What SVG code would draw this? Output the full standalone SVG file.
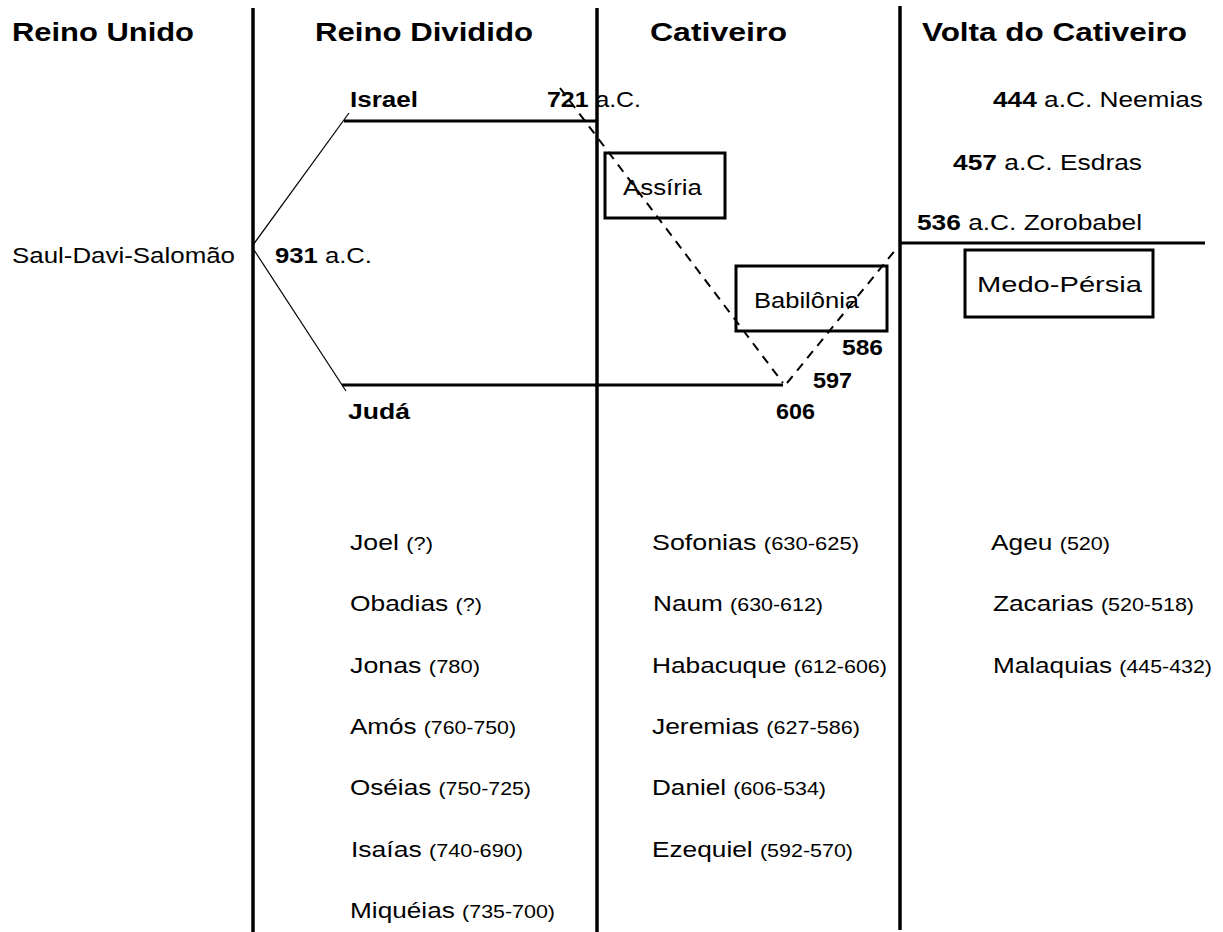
<svg xmlns="http://www.w3.org/2000/svg" width="1223" height="932" viewBox="0 0 1223 932">
<style>
text{font-family:"Liberation Sans",Arial,sans-serif;fill:#000}
.h{font-size:25px;font-weight:bold}
.t{font-size:22px}
.b{font-weight:bold}
.p{font-size:18px}
.sep{stroke:#000;stroke-width:3.5;fill:none}
.thick{stroke:#000;stroke-width:3;fill:none}
.thin{stroke:#000;stroke-width:1.2;fill:none}
.dash{stroke:#000;stroke-width:2;stroke-dasharray:9 7;fill:none}
.box{stroke:#000;stroke-width:3;fill:none}
</style>
<rect width="1223" height="932" fill="#fff"/>
<g id="headers">
<text class="h" x="12" y="41" textLength="182" lengthAdjust="spacingAndGlyphs">Reino Unido</text>
<text class="h" x="315" y="41" textLength="218" lengthAdjust="spacingAndGlyphs">Reino Dividido</text>
<text class="h" x="650" y="41" textLength="137" lengthAdjust="spacingAndGlyphs">Cativeiro</text>
<text class="h" x="922" y="41" textLength="265" lengthAdjust="spacingAndGlyphs">Volta do Cativeiro</text>
</g>
<g id="connectors">
<line class="sep" x1="253" y1="8" x2="253" y2="932"/>
<line class="sep" x1="597" y1="8" x2="597" y2="932"/>
<line class="sep" x1="900" y1="6" x2="900" y2="930"/>
<line class="thick" x1="344" y1="121" x2="597" y2="121"/>
<line class="thick" x1="342" y1="385" x2="783" y2="385"/>
<line class="thick" x1="900" y1="243" x2="1205" y2="243"/>
<line class="thin" x1="253" y1="245" x2="349" y2="113"/>
<line class="thin" x1="254" y1="250" x2="346" y2="391"/>
<line class="dash" x1="560" y1="88" x2="783" y2="383"/>
<line class="dash" x1="787" y1="383" x2="897" y2="248"/>
</g>
<g id="reino-unido">
<text class="t" x="12" y="263" textLength="223" lengthAdjust="spacingAndGlyphs">Saul-Davi-Salomão</text>
<text class="t" x="275" y="263" textLength="97" lengthAdjust="spacingAndGlyphs"><tspan class="b">931</tspan> a.C.</text>
</g>
<g id="israel">
<text class="t b" x="350" y="107" textLength="68" lengthAdjust="spacingAndGlyphs">Israel</text>
<text class="t" x="547" y="107" textLength="94" lengthAdjust="spacingAndGlyphs"><tspan class="b">721</tspan> a.C.</text>
</g>
<g id="juda">
<text class="t b" x="348" y="419" textLength="62" lengthAdjust="spacingAndGlyphs">Judá</text>
<text class="t b" x="776" y="419" textLength="39" lengthAdjust="spacingAndGlyphs">606</text>
<text class="t b" x="813" y="388" textLength="39" lengthAdjust="spacingAndGlyphs">597</text>
<text class="t b" x="842" y="355" textLength="41" lengthAdjust="spacingAndGlyphs">586</text>
</g>
<g id="assiria">
<rect class="box" x="605" y="153" width="120" height="65"/>
<text class="t" x="623" y="195" textLength="79" lengthAdjust="spacingAndGlyphs">Assíria</text>
</g>
<g id="babilonia">
<rect class="box" x="736" y="266" width="151" height="65"/>
<text class="t" x="754" y="308" textLength="105" lengthAdjust="spacingAndGlyphs">Babilônia</text>
</g>
<g id="medo-persia">
<rect class="box" x="965" y="250" width="188" height="67"/>
<text class="t" x="977" y="292" textLength="165" lengthAdjust="spacingAndGlyphs">Medo-Pérsia</text>
</g>
<g id="volta">
<text class="t" x="993" y="107" textLength="210" lengthAdjust="spacingAndGlyphs"><tspan class="b">444</tspan> a.C. Neemias</text>
<text class="t" x="953" y="170" textLength="189" lengthAdjust="spacingAndGlyphs"><tspan class="b">457</tspan> a.C. Esdras</text>
<text class="t" x="917" y="230" textLength="225" lengthAdjust="spacingAndGlyphs"><tspan class="b">536</tspan> a.C. Zorobabel</text>
</g>
<g id="profetas-reino-dividido">
<text class="t" x="350" y="550" textLength="83" lengthAdjust="spacingAndGlyphs">Joel <tspan class="p">(?)</tspan></text>
<text class="t" x="350" y="611" textLength="132" lengthAdjust="spacingAndGlyphs">Obadias <tspan class="p">(?)</tspan></text>
<text class="t" x="350" y="673" textLength="130" lengthAdjust="spacingAndGlyphs">Jonas <tspan class="p">(780)</tspan></text>
<text class="t" x="350" y="734" textLength="166" lengthAdjust="spacingAndGlyphs">Amós <tspan class="p">(760-750)</tspan></text>
<text class="t" x="350" y="795" textLength="181" lengthAdjust="spacingAndGlyphs">Oséias <tspan class="p">(750-725)</tspan></text>
<text class="t" x="351" y="857" textLength="172" lengthAdjust="spacingAndGlyphs">Isaías <tspan class="p">(740-690)</tspan></text>
<text class="t" x="350" y="918" textLength="205" lengthAdjust="spacingAndGlyphs">Miquéias <tspan class="p">(735-700)</tspan></text>
</g>
<g id="profetas-cativeiro">
<text class="t" x="652" y="550" textLength="207" lengthAdjust="spacingAndGlyphs">Sofonias <tspan class="p">(630-625)</tspan></text>
<text class="t" x="653" y="611" textLength="170" lengthAdjust="spacingAndGlyphs">Naum  <tspan class="p">(630-612)</tspan></text>
<text class="t" x="652" y="673" textLength="235" lengthAdjust="spacingAndGlyphs">Habacuque <tspan class="p">(612-606)</tspan></text>
<text class="t" x="652" y="734" textLength="208" lengthAdjust="spacingAndGlyphs">Jeremias <tspan class="p">(627-586)</tspan></text>
<text class="t" x="652" y="795" textLength="174" lengthAdjust="spacingAndGlyphs">Daniel <tspan class="p">(606-534)</tspan></text>
<text class="t" x="652" y="857" textLength="201" lengthAdjust="spacingAndGlyphs">Ezequiel <tspan class="p">(592-570)</tspan></text>
</g>
<g id="profetas-volta">
<text class="t" x="991" y="550" textLength="119" lengthAdjust="spacingAndGlyphs">Ageu <tspan class="p">(520)</tspan></text>
<text class="t" x="993" y="611" textLength="201" lengthAdjust="spacingAndGlyphs">Zacarias <tspan class="p">(520-518)</tspan></text>
<text class="t" x="993" y="673" textLength="219" lengthAdjust="spacingAndGlyphs">Malaquias <tspan class="p">(445-432)</tspan></text>
</g>
</svg>
